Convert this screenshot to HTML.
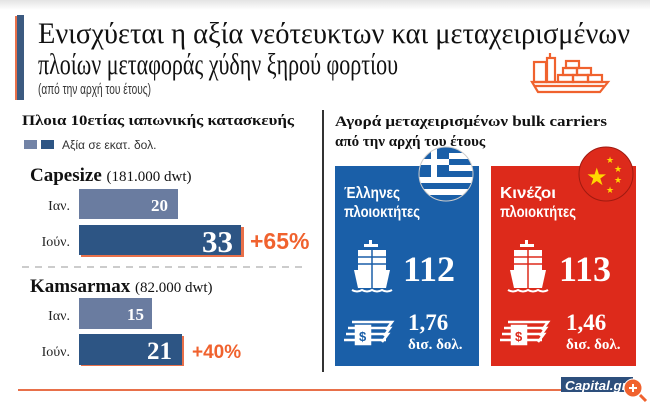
<!DOCTYPE html>
<html><head><meta charset="utf-8"><style>
html,body{margin:0;padding:0;background:#fff;}
svg{display:block}
.s{font-family:"Liberation Serif",serif}
.n{font-family:"Liberation Sans",sans-serif}
</style></head><body>
<svg width="650" height="408" viewBox="0 0 650 408" xmlns="http://www.w3.org/2000/svg">
<defs><linearGradient id="g" x1="0" y1="0" x2="0" y2="1"><stop offset="0" stop-color="#e4e4e4"/><stop offset="1" stop-color="#fff"/></linearGradient></defs>
<rect width="650" height="408" fill="#fff"/>
<rect width="650" height="10" fill="url(#g)"/>
<rect x="15" y="16" width="4" height="84" fill="#e8704a"/>
<rect x="17" y="15" width="7" height="85" fill="#3c5a80"/>
<text class="s" x="38" y="43" font-size="30" textLength="592" lengthAdjust="spacingAndGlyphs" fill="#111">Ενισχύεται η αξία νεότευκτων και μεταχειρισμένων</text>
<text class="s" x="38" y="74" font-size="30" textLength="360" lengthAdjust="spacingAndGlyphs" fill="#111">πλοίων μεταφοράς χύδην ξηρού φορτίου</text>
<text class="n" x="38" y="94" font-size="15" textLength="113" lengthAdjust="spacingAndGlyphs" fill="#333">(από την αρχή του έτους)</text>
<!-- ship icon -->
<g fill="none" stroke="#f0622e" stroke-width="2.2">
<path d="M532 82 L608 82 L600 92 L538 92 Z"/><path d="M534 86 L604 86"/>
<rect x="534" y="62" width="12" height="20"/><rect x="547" y="58" width="8" height="24"/>
<rect x="558" y="75" width="15" height="7"/><rect x="573" y="75" width="15" height="7"/><rect x="588" y="75" width="14" height="7"/>
<rect x="563" y="68" width="14" height="7"/><rect x="577" y="68" width="14" height="7"/><rect x="566" y="61" width="13" height="7"/>
<path d="M550 58 L550 53"/>
</g>
<!-- left -->
<text class="s" x="22" y="125" font-size="14.5" font-weight="bold" textLength="272" lengthAdjust="spacingAndGlyphs" fill="#111">Πλοια 10ετίας ιαπωνικής κατασκευής</text>
<rect x="24" y="140" width="13" height="9" fill="#7283a6"/><rect x="41" y="140" width="13" height="9" fill="#2d5584"/>
<text class="n" x="62" y="149" font-size="12" fill="#333">Αξία σε εκατ. δολ.</text>
<text class="s" x="30" y="181" font-size="19" font-weight="bold" fill="#111">Capesize <tspan font-weight="normal" font-size="15">(181.000 dwt)</tspan></text>
<text class="s" x="70" y="210" font-size="14" text-anchor="end" fill="#222">Ιαν.</text>
<rect x="79" y="189" width="99" height="30" fill="#6a7ca0"/>
<text class="s" x="168" y="211" font-size="17" font-weight="bold" text-anchor="end" fill="#fff">20</text>
<text class="s" x="70" y="246" font-size="14" text-anchor="end" fill="#222">Ιούν.</text>
<rect x="81" y="227" width="163" height="30" fill="#e8704a"/>
<rect x="79" y="225" width="162" height="30" fill="#2d5584"/>
<text class="s" x="233" y="252" font-size="31" font-weight="bold" text-anchor="end" fill="#fff">33</text>
<text class="n" x="250" y="249" font-size="23" font-weight="bold" fill="#f0622e">+65%</text>
<line x1="22" y1="267" x2="308" y2="267" stroke="#999" stroke-dasharray="7,6"/>
<text class="s" x="30" y="292" font-size="19" font-weight="bold" fill="#111">Kamsarmax <tspan font-weight="normal" font-size="15">(82.000 dwt)</tspan></text>
<text class="s" x="70" y="320" font-size="14" text-anchor="end" fill="#222">Ιαν.</text>
<rect x="79" y="298" width="73" height="31" fill="#6a7ca0"/>
<text class="s" x="144" y="320" font-size="17" font-weight="bold" text-anchor="end" fill="#fff">15</text>
<text class="s" x="70" y="356" font-size="14" text-anchor="end" fill="#222">Ιούν.</text>
<rect x="81" y="336" width="103" height="30" fill="#e8704a"/>
<rect x="79" y="334" width="103" height="31" fill="#2d5584"/>
<text class="s" x="172" y="359" font-size="25" font-weight="bold" text-anchor="end" fill="#fff">21</text>
<text class="n" x="192" y="358" font-size="19" font-weight="bold" fill="#f0622e">+40%</text>
<rect x="322" y="110" width="2" height="262" fill="#333"/>
<rect x="18" y="389" width="600" height="2" fill="#e8704a"/>
<!-- right -->
<text class="s" x="335" y="126" font-size="15" font-weight="bold" textLength="272" lengthAdjust="spacingAndGlyphs" fill="#111">Αγορά μεταχειρισμένων bulk carriers</text>
<text class="s" x="335" y="146" font-size="15" font-weight="bold" fill="#111">από την αρχή του έτους</text>
<rect x="335" y="166" width="144" height="200" fill="#1a5fa8"/>
<rect x="491" y="166" width="145" height="200" fill="#dd2a1b"/>
<clipPath id="c1"><circle cx="446" cy="174" r="27"/></clipPath>
<g clip-path="url(#c1)"><rect x="419" y="147" width="54" height="54" fill="#1a5fa8"/>
<g fill="#fff"><rect x="419" y="153" width="54" height="6"/><rect x="419" y="165" width="54" height="6"/><rect x="419" y="177" width="54" height="6"/><rect x="419" y="189" width="54" height="6"/></g>
<rect x="419" y="147" width="30" height="30" fill="#1a5fa8"/>
<g fill="#fff"><rect x="431" y="147" width="6" height="30"/><rect x="419" y="159" width="30" height="6"/></g></g>
<circle cx="446" cy="174" r="27" fill="none" stroke="#ccc" stroke-width="1"/>
<circle cx="606" cy="174" r="27" fill="#dd2a1b" stroke="#a01a10" stroke-width="1"/>
<g fill="#ffd700"><text x="586" y="185" font-size="24" class="n">★</text><text x="606" y="163" font-size="9" class="n">★</text><text x="614" y="172" font-size="9" class="n">★</text><text x="614" y="183" font-size="9" class="n">★</text><text x="606" y="193" font-size="9" class="n">★</text></g>
<text class="n" x="344" y="198" font-size="16" font-weight="bold" fill="#fff" textLength="56" lengthAdjust="spacingAndGlyphs">Έλληνες</text>
<text class="n" x="344" y="217" font-size="16" font-weight="bold" fill="#fff" textLength="76" lengthAdjust="spacingAndGlyphs">πλοιοκτήτες</text>
<text class="n" x="500" y="198" font-size="16" font-weight="bold" fill="#fff" textLength="56" lengthAdjust="spacingAndGlyphs">Κινέζοι</text>
<text class="n" x="500" y="217" font-size="16" font-weight="bold" fill="#fff" textLength="76" lengthAdjust="spacingAndGlyphs">πλοιοκτήτες</text>
<g id="ship" fill="#fff">
<rect x="369" y="240" width="3" height="6"/><rect x="364" y="244" width="14" height="3"/>
<rect x="358" y="250" width="28" height="22"/>
<path d="M354 270 L390 270 L386 288 L358 288 Z"/>
<path d="M352 290 q5 3 10 0 q5 3 10 0 q5 3 10 0 q5 3 10 0" stroke="#fff" stroke-width="2" fill="none"/>
</g>
<g stroke="#1a5fa8" stroke-width="1.5"><line x1="358" y1="257" x2="386" y2="257"/><line x1="358" y1="264" x2="386" y2="264"/><line x1="372" y1="250" x2="372" y2="288"/></g>
<use href="#ship" x="156"/>
<g stroke="#dd2a1b" stroke-width="1.5"><line x1="514" y1="257" x2="542" y2="257"/><line x1="514" y1="264" x2="542" y2="264"/><line x1="528" y1="250" x2="528" y2="288"/></g>
<text class="s" x="403" y="281" font-size="36" font-weight="bold" fill="#fff">112</text>
<text class="s" x="559" y="281" font-size="36" font-weight="bold" fill="#fff">113</text>
<g id="money" fill="none" stroke="#fff" stroke-width="2.5">
<path d="M352 322 L392 322 L386 330"/><path d="M348 328 L390 328 L384 336"/><path d="M346 334 L388 334 L382 342"/><path d="M344 340 L386 340"/>
<rect x="356" y="326" width="14" height="18" fill="#fff"/>
</g>
<text class="n" x="359" y="341" font-size="13" font-weight="bold" fill="#1a5fa8">$</text>
<use href="#money" x="156"/>
<text class="n" x="515" y="341" font-size="13" font-weight="bold" fill="#dd2a1b">$</text>
<text class="s" x="408" y="330" font-size="23" font-weight="bold" fill="#fff">1,76</text>
<text class="s" x="408" y="349" font-size="15" font-weight="bold" fill="#fff">δισ. δολ.</text>
<text class="s" x="566" y="330" font-size="23" font-weight="bold" fill="#fff">1,46</text>
<text class="s" x="566" y="349" font-size="15" font-weight="bold" fill="#fff">δισ. δολ.</text>
<rect x="561" y="377" width="72" height="15" fill="#2d4f7c"/>
<text class="n" x="565" y="390" font-size="13" font-weight="bold" font-style="italic" fill="#fff" textLength="62" lengthAdjust="spacingAndGlyphs">Capital.gr</text>
<circle cx="633" cy="388" r="9" fill="#f0622e" stroke="#fff" stroke-width="1"/>
<path d="M629 388 h8 M633 384 v8" stroke="#fff" stroke-width="2"/>
<line x1="640" y1="395" x2="646" y2="401" stroke="#f0622e" stroke-width="3"/>
</svg>
</body></html>
